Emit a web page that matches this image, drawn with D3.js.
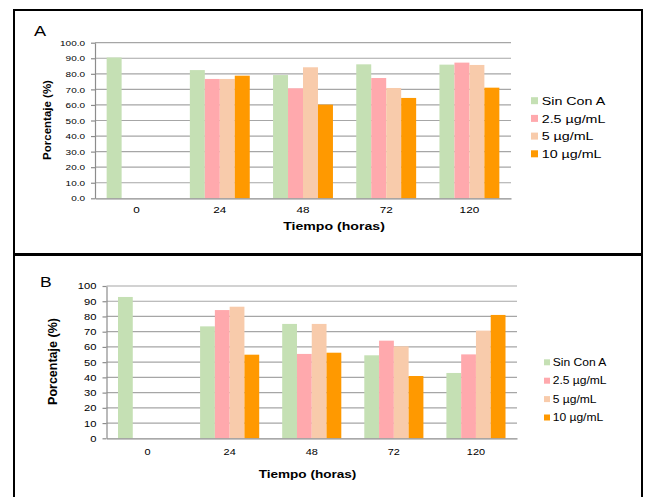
<!DOCTYPE html>
<html><head><meta charset="utf-8">
<script src="https://cdn.jsdelivr.net/npm/d3@7"></script>
<style>html,body{margin:0;padding:0;background:#fff;}svg{display:block;font-family:"Liberation Sans",Arial,sans-serif;}</style>
</head><body>
<script>
// ---------- DATA ----------
const categories = ["0", "24", "48", "72", "120"];
const seriesNames = ["Sin Con A", "2.5 µg/mL", "5 µg/mL", "10 µg/mL"];
const seriesColors = ["#c5e0b4", "#ffa9ad", "#f8cbab", "#ff9900"];

const valuesA_sinConA = [90.5, 82.4, 79.2, 86.1, 85.9];
const valuesA_2_5 = [null, 76.7, 70.7, 77.3, 87.2];
const valuesA_5 = [null, 76.7, 84.2, 70.9, 85.7];
const valuesA_10 = [null, 78.8, 60.2, 64.5, 71.1];

const valuesB_sinConA = [92.8, 73.5, 75.1, 54.5, 42.9];
const valuesB_2_5 = [null, 84.2, 55.4, 64.1, 55.1];
const valuesB_5 = [null, 86.4, 75.1, 60.4, 70.7];
const valuesB_10 = [null, 54.9, 56.2, 40.9, 81.0];

const yTicksA = [0, 10, 20, 30, 40, 50, 60, 70, 80, 90, 100];
const yTickLabelsA = ["0.0", "10.0", "20.0", "30.0", "40.0", "50.0", "60.0", "70.0", "80.0", "90.0", "100.0"];
const yTicksB = [0, 10, 20, 30, 40, 50, 60, 70, 80, 90, 100];
const yTickLabelsB = ["0", "10", "20", "30", "40", "50", "60", "70", "80", "90", "100"];

const xTitle = "Tiempo (horas)";
const yTitle = "Porcentaje (%)";

// ---------- DRAW ----------
const W = 645, H = 497;
const svg = d3.select("body").append("svg").attr("width", W).attr("height", H);

// panel frames
svg.append("rect").attr("x", 14).attr("y", 10).attr("width", 628).attr("height", 244)
  .attr("fill", "none").attr("stroke", "#000").attr("stroke-width", 2);
svg.append("rect").attr("x", 14).attr("y", 255).attr("width", 628).attr("height", 260)
  .attr("fill", "none").attr("stroke", "#000").attr("stroke-width", 2);

function stretchedText(g, txt, x, y, size, sx, opts) {
  opts = opts || {};
  const t = g.append("text")
    .attr("transform", `translate(${x},${y}) scale(${sx},1)` + (opts.rotate ? ` rotate(${opts.rotate})` : ""))
    .attr("font-size", size)
    .attr("fill", "#000")
    .attr("text-anchor", opts.anchor || "start")
    .text(txt);
  if (opts.bold) t.attr("font-weight", "bold");
  return t;
}

function drawPanel(cfg) {
  const g = svg.append("g");
  const x = d3.scaleBand().domain(categories).range([cfg.left, cfg.right]).paddingInner(0.28).paddingOuter(0.14);
  const xs = d3.scaleBand().domain(d3.range(seriesNames.length)).range([0, x.bandwidth()]);
  const y = d3.scaleLinear().domain([0, 100]).range([cfg.bottom, cfg.top]);

  // gridlines
  g.append("g").selectAll("line").data(cfg.ticks.filter(d => d > 0)).join("line")
    .attr("x1", cfg.left).attr("x2", cfg.right)
    .attr("y1", d => y(d)).attr("y2", d => y(d))
    .attr("stroke", "#a6a6a6").attr("stroke-width", 1.2);

  // bars
  cfg.series.forEach((vals, si) => {
    g.append("g").selectAll("rect").data(vals.map((v, i) => ({ v, c: categories[i] })).filter(d => d.v != null)).join("rect")
      .attr("x", d => x(d.c) + xs(si))
      .attr("width", xs.bandwidth())
      .attr("y", d => y(d.v))
      .attr("height", d => y(0) - y(d.v))
      .attr("fill", seriesColors[si]);
  });

  // y axis
  const yAxis = d3.axisLeft(y).tickValues(cfg.ticks).tickFormat((d, i) => cfg.tickLabels[i]).tickSize(4).tickSizeOuter(0);
  const ya = g.append("g").attr("transform", `translate(${cfg.left},0)`).call(yAxis);
  ya.select(".domain").attr("stroke", "#8c8c8c").attr("stroke-width", 1.2);
  ya.selectAll(".tick line").attr("stroke", "#8c8c8c").attr("stroke-width", 1.2);
  ya.selectAll(".tick text")
    .attr("x", -cfg.yLabelGap / cfg.tickSx)
    .attr("dy", "0.35em")
    .attr("transform", `scale(${cfg.tickSx},1)`)
    .attr("font-size", cfg.tickSize)
    .attr("font-family", "Liberation Sans, Arial, sans-serif")
    .attr("fill", "#000");

  // x axis
  const xAxis = d3.axisBottom(x).tickSize(0).tickSizeOuter(0);
  const xa = g.append("g").attr("transform", `translate(0,${cfg.bottom})`).call(xAxis);
  xa.select(".domain").attr("stroke", "#8c8c8c").attr("stroke-width", 1.2);
  xa.selectAll(".tick text")
    .attr("y", cfg.xLabelOffset).attr("dy", 0)
    .attr("transform", `scale(${cfg.xTickSx},1)`)
    .attr("x", 0)
    .attr("font-size", cfg.xTickSize)
    .attr("font-family", "Liberation Sans, Arial, sans-serif")
    .attr("fill", "#000");
  xa.selectAll(".tick").attr("transform", d => `translate(${x(d) + x.bandwidth() / 2},0)`);

  // titles
  stretchedText(g, xTitle, cfg.xTitleX, cfg.xTitleY, cfg.titleSize, cfg.xTitleSx, { anchor: "middle", bold: true });
  stretchedText(g, yTitle, cfg.yTitleX, cfg.yTitleY, cfg.yTitleSize, 1, { anchor: "middle", bold: true, rotate: -90 });
  stretchedText(g, cfg.label, cfg.labelX, cfg.labelY, cfg.labelSize, cfg.labelSx, {});

  // legend
  seriesNames.forEach((name, i) => {
    const cy = cfg.legendY0 + i * cfg.legendStep;
    g.append("rect").attr("x", cfg.legendX).attr("y", cy - cfg.legendSq / 2)
      .attr("width", cfg.legendSq).attr("height", cfg.legendSq).attr("fill", seriesColors[i]);
    stretchedText(g, name, cfg.legendTextX, cy + cfg.legendFont * 0.36, cfg.legendFont, cfg.legendSx, {});
  });
}

drawPanel({
  label: "A", labelX: 34, labelY: 36, labelSize: 14, labelSx: 1.3,
  left: 95, right: 511, top: 42.7, bottom: 198.3,
  series: [valuesA_sinConA, valuesA_2_5, valuesA_5, valuesA_10],
  ticks: yTicksA, tickLabels: yTickLabelsA,
  tickSize: 7.5, tickSx: 1.33, yLabelGap: 10,
  xTickSize: 8.4, xTickSx: 1.4, xLabelOffset: 15,
  titleSize: 10.7, xTitleSx: 1.32, xTitleX: 334, xTitleY: 229.5,
  yTitleSize: 11.5, yTitleX: 51, yTitleY: 120,
  legendX: 531, legendTextX: 541.7, legendY0: 100.7, legendStep: 17.7, legendSq: 7, legendFont: 11.6, legendSx: 1.23
});

drawPanel({
  label: "B", labelX: 40, labelY: 287, labelSize: 15, labelSx: 1.17,
  left: 106.5, right: 517, top: 286, bottom: 438.3,
  series: [valuesB_sinConA, valuesB_2_5, valuesB_5, valuesB_10],
  ticks: yTicksB, tickLabels: yTickLabelsB,
  tickSize: 8.4, tickSx: 1.33, yLabelGap: 10,
  xTickSize: 8.4, xTickSx: 1.3, xLabelOffset: 16.7,
  titleSize: 11.6, xTitleSx: 1.17, xTitleX: 307.5, xTitleY: 477.5,
  yTitleSize: 12.5, yTitleX: 57, yTitleY: 361.5,
  legendX: 544, legendTextX: 552.7, legendY0: 362.3, legendStep: 18.4, legendSq: 6, legendFont: 10.5, legendSx: 1.15
});
</script>
</body></html>
